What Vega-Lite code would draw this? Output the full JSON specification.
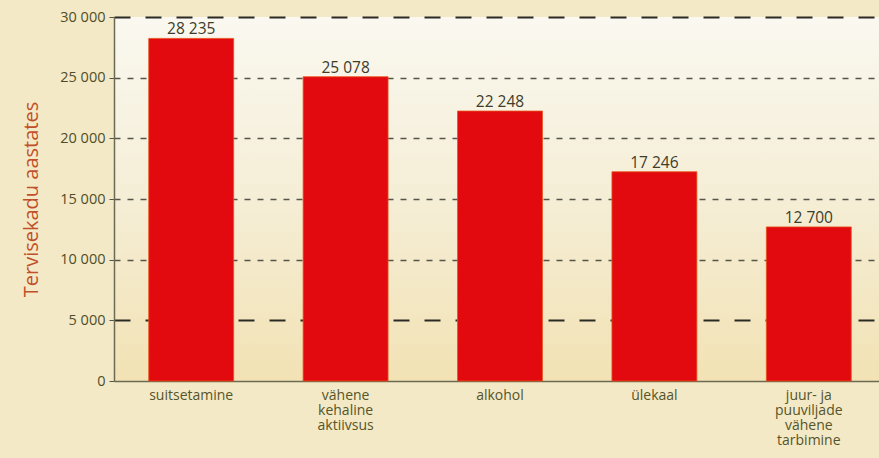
{
  "$schema": "https://vega.github.io/schema/vega-lite/v6.json",
  "width": 772,
  "height": 364,
  "autosize": {"type": "none"},
  "padding": {"left": 114, "top": 17, "right": 0, "bottom": 77},
  "background": "#f4e9c6",
  "data": {
    "values": [
      {"tegur": "suitsetamine", "tervisekadu": 28235},
      {"tegur": "vähene kehaline aktiivsus", "tervisekadu": 25078},
      {"tegur": "alkohol", "tervisekadu": 22248},
      {"tegur": "ülekaal", "tervisekadu": 17246},
      {"tegur": "juur- ja puuviljade vähene tarbimine", "tervisekadu": 12700}
    ]
  },
  "encoding": {
    "x": {
      "field": "tegur",
      "type": "nominal",
      "sort": null,
      "scale": {"paddingInner": 0.45, "paddingOuter": 0.225},
      "axis": {
        "title": null,
        "labelAngle": 0,
        "ticks": false,
        "domainColor": "#6b6b55",
        "domainWidth": 1.5,
        "labelColor": "#55552a",
        "labelFont": "Open Sans",
        "labelFontSize": 14,
        "labelFontWeight": 500,
        "labelLineHeight": 15,
        "labelPadding": 7,
        "labelBaseline": "top",
        "labelExpr": "datum.value == 'juur- ja puuviljade vähene tarbimine' ? ['juur- ja', 'puuviljade', 'vähene', 'tarbimine'] : split(datum.value, ' ')"
      }
    },
    "y": {
      "field": "tervisekadu",
      "type": "quantitative",
      "scale": {"domain": [0, 30000], "nice": false},
      "axis": {
        "title": "Tervisekadu aastates",
        "titleFont": "Open Sans",
        "titleFontSize": 20,
        "titleFontWeight": "normal",
        "titleColor": "#c0502a",
        "titlePadding": 18,
        "values": [0, 5000, 10000, 15000, 20000, 25000, 30000],
        "labelExpr": "datum.value == 0 ? '0' : floor(datum.value / 1000) + ' 000'",
        "labelColor": "#4e4e2a",
        "labelFont": "Open Sans",
        "labelFontSize": 14.5,
        "labelPadding": 4,
        "tickColor": "#555545",
        "tickSize": 5,
        "domainColor": "#6b6b55",
        "domainWidth": 1.5,
        "grid": true,
        "gridColor": {"condition": {"test": "datum.value == 30000 || datum.value == 5000", "value": "#2a2a25"}, "value": "#55554a"},
        "gridDash": {"condition": {"test": "datum.value == 30000 || datum.value == 5000", "value": [16, 15]}, "value": [6, 7]},
        "gridWidth": {"condition": {"test": "datum.value == 30000 || datum.value == 5000", "value": 2.2}, "value": 1.4},
        "gridOpacity": {"condition": {"test": "datum.value == 0", "value": 0}, "value": 1}
      }
    }
  },
  "layer": [
    {
      "mark": {"type": "bar", "color": "#e20a0f", "stroke": "#e8501a", "strokeWidth": 0.8}
    },
    {
      "mark": {"type": "text", "baseline": "bottom", "dy": -1, "font": "Open Sans", "fontSize": 15.5, "color": "#3d3d2a"},
      "encoding": {"text": {"field": "tervisekadu", "type": "quantitative", "format": ","}}
    }
  ],
  "config": {
    "view": {"stroke": null, "fill": {"gradient": "linear", "x1": 0, "y1": 0, "x2": 0, "y2": 1, "stops": [{"offset": 0, "color": "#faf8f0"}, {"offset": 0.5, "color": "#f5eed6"}, {"offset": 1, "color": "#f2e2b4"}]}},
    "locale": {"number": {"decimal": ",", "thousands": " ", "grouping": [3], "currency": ["", " €"]}}
  }
}
